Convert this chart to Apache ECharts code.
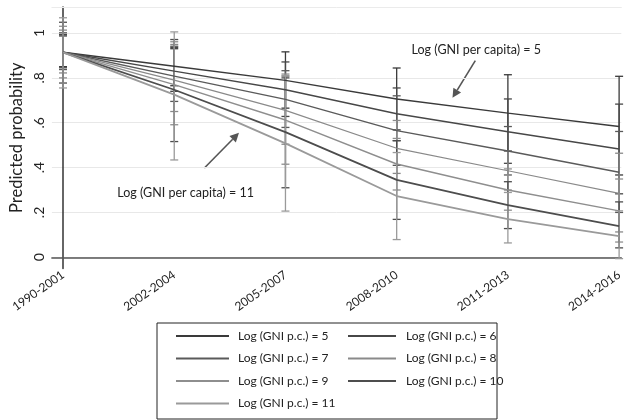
<!DOCTYPE html>
<html>
<head>
<meta charset="utf-8">
<script src="https://cdn.jsdelivr.net/npm/echarts@6/dist/echarts.min.js"></script>
<style>html,body{margin:0;padding:0;background:#fff}#c{width:625px;height:420px}</style>
</head>
<body>
<div id="c"></div>
<script>
// ---- data ----
const periods = ['1990-2001', '2002-2004', '2005-2007', '2008-2010', '2011-2013', '2014-2016'];
const yTicks = [0, 0.2, 0.4, 0.6, 0.8, 1];
const seriesNames = ['Log (GNI p.c.) = 5', 'Log (GNI p.c.) = 6', 'Log (GNI p.c.) = 7', 'Log (GNI p.c.) = 8',
                     'Log (GNI p.c.) = 9', 'Log (GNI p.c.) = 10', 'Log (GNI p.c.) = 11'];
const gni5  = [0.914, 0.852, 0.789, 0.706, 0.643, 0.583];
const gni6  = [0.914, 0.830, 0.747, 0.640, 0.560, 0.483];
const gni7  = [0.914, 0.808, 0.704, 0.565, 0.474, 0.379];
const gni8  = [0.914, 0.790, 0.655, 0.486, 0.386, 0.285];
const gni9  = [0.914, 0.770, 0.612, 0.416, 0.300, 0.207];
const gni10 = [0.914, 0.747, 0.558, 0.345, 0.233, 0.139];
const gni11 = [0.914, 0.725, 0.508, 0.273, 0.170, 0.094];
// confidence intervals (lower, upper)
const lo5  = [0.850, 0.765, 0.665, 0.568, 0.474, 0.367];
const hi5  = [0.987, 0.930, 0.916, 0.844, 0.814, 0.807];
const lo6  = [0.845, 0.740, 0.628, 0.520, 0.419, 0.283];
const hi6  = [0.993, 0.936, 0.871, 0.755, 0.706, 0.683];
const lo7  = [0.837, 0.695, 0.579, 0.410, 0.367, 0.200];
const hi7  = [1.001, 0.941, 0.832, 0.720, 0.583, 0.561];
const lo8  = [0.822, 0.650, 0.504, 0.374, 0.300, 0.113];
const hi8  = [1.013, 0.949, 0.807, 0.610, 0.474, 0.464];
const lo9  = [0.800, 0.591, 0.415, 0.300, 0.210, 0.068];
const hi9  = [1.030, 0.961, 0.817, 0.530, 0.394, 0.349];
const lo10 = [0.777, 0.516, 0.310, 0.169, 0.128, 0.042];
const hi10 = [1.048, 0.971, 0.800, 0.520, 0.337, 0.247];
const lo11 = [0.755, 0.434, 0.206, 0.079, 0.064, -0.006];
const hi11 = [1.068, 1.005, 0.810, 0.467, 0.289, 0.207];
// annotations in data coordinates (x index, probability)
const annot5  = {text: 'Log (GNI per capita) = 5',  at: [3.716, 0.926], from: [3.707, 0.877], to: [3.502, 0.711]};
const annot11 = {text: 'Log (GNI per capita) = 11', at: [1.102, 0.286], from: [1.271, 0.398], to: [1.582, 0.555]};

// ---- styles ----
const values = [gni5, gni6, gni7, gni8, gni9, gni10, gni11];
const lows = [lo5, lo6, lo7, lo8, lo9, lo10, lo11];
const highs = [hi5, hi6, hi7, hi8, hi9, hi10, hi11];
const colors = ['#3a3a3a', '#474747', '#5a5a5a', '#8a8a8a', '#8e8e8e', '#4d4d4d', '#9a9a9a'];
const widths = [1.4, 1.4, 1.4, 1.2, 1.4, 1.8, 1.8];
const FONT = 'Lato';

const chart = echarts.init(document.getElementById('c'), null, {renderer: 'canvas'});

const errSeries = values.map((v, i) => ({
  type: 'custom',
  name: 'ci' + i,
  clip: false,
  z: 2,
  encode: {x: 0, y: [1, 2]},
  data: periods.map((p, j) => [j, lows[i][j], highs[i][j]]),
  renderItem: function (params, api) {
    const x = api.value(0);
    const a = api.coord([x, api.value(1)]);
    const b = api.coord([x, api.value(2)]);
    const w = 4;
    const st = {stroke: colors[i], lineWidth: 1.3};
    return {
      type: 'group',
      children: [
        {type: 'line', shape: {x1: a[0], y1: a[1], x2: b[0], y2: b[1]}, style: st},
        {type: 'line', shape: {x1: a[0] - w, y1: a[1], x2: a[0] + w, y2: a[1]}, style: st},
        {type: 'line', shape: {x1: b[0] - w, y1: b[1], x2: b[0] + w, y2: b[1]}, style: st}
      ]
    };
  }
}));

const lineSeries = values.map((v, i) => ({
  type: 'line',
  name: seriesNames[i],
  symbol: 'none',
  z: 3,
  silent: true,
  lineStyle: {color: colors[i], width: widths[i]},
  itemStyle: {color: colors[i]},
  data: v.map((y, j) => [j, y])
}));

const legendCommon = {
  orient: 'vertical',
  selectedMode: false,
  padding: 0,
  itemHeight: 14,
  itemGap: 10.5,
  height: 100,
  itemStyle: {opacity: 0},
  textStyle: {fontFamily: FONT, fontSize: 12, color: '#222'}
};

const option = {
  animation: false,
  grid: {left: 50, right: 0, top: 7, bottom: 151.5},
  xAxis: [{
    type: 'value',
    min: -0.1,
    max: 5.02,
    axisLine: {show: true, lineStyle: {color: '#555', width: 1.5}},
    axisTick: {show: false},
    splitLine: {show: false},
    axisLabel: {
      customValues: [0, 1, 2, 3, 4, 5],
      formatter: v => periods[Math.round(v)],
      rotate: 35,
      margin: 5,
      fontFamily: FONT, fontSize: 12, color: '#222'
    }
  }, {
    type: 'value',
    position: 'top',
    min: -0.1,
    max: 5.02,
    axisLine: {show: true, lineStyle: {color: '#ebebeb', width: 1}},
    axisTick: {show: false},
    axisLabel: {show: false},
    splitLine: {show: false}
  }],
  yAxis: {
    type: 'value',
    min: -0.05,
    max: 1.116,
    name: 'Predicted probability',
    nameLocation: 'middle',
    nameGap: 21,
    nameTextStyle: {fontFamily: FONT, fontSize: 16.5, color: '#222'},
    axisLine: {show: true, lineStyle: {color: '#333', width: 1.5}},
    axisTick: {show: false, customValues: yTicks},
    splitLine: {show: true, lineStyle: {color: '#e8e8e8', width: 1}},
    axisLabel: {
      customValues: yTicks,
      rotate: 90,
      margin: 5,
      formatter: v => (v === 0 ? '0' : v === 1 ? '1' : String(Math.round(v * 10) / 10).replace(/^0/, '')),
      fontFamily: FONT, fontSize: 14, color: '#222'
    }
  },
  legend: [
    Object.assign({}, legendCommon, {
      left: 175, top: 330, itemWidth: 53,
      data: [seriesNames[0], seriesNames[2], seriesNames[4], seriesNames[6]],
      textStyle: Object.assign({}, legendCommon.textStyle, {padding: [0, 0, 0, 4]})
    }),
    Object.assign({}, legendCommon, {
      left: 347, top: 330, itemWidth: 48,
      data: [seriesNames[1], seriesNames[3], seriesNames[5]],
      textStyle: Object.assign({}, legendCommon.textStyle, {padding: [0, 0, 0, 5]})
    })
  ],
  graphic: [{
    type: 'rect',
    shape: {x: 157, y: 323, width: 340, height: 96},
    style: {fill: 'none', stroke: '#222', lineWidth: 1}
  }],
  series: errSeries.concat(lineSeries)
};

chart.setOption(option);

// annotations positioned through the chart's coordinate system
function annotation(a) {
  const t = chart.convertToPixel({gridIndex: 0}, a.at);
  const p = chart.convertToPixel({gridIndex: 0}, a.from);
  const q = chart.convertToPixel({gridIndex: 0}, a.to);
  const dx = q[0] - p[0], dy = q[1] - p[1];
  const len = Math.sqrt(dx * dx + dy * dy);
  const ux = dx / len, uy = dy / len;
  const hl = 9, hw = 4.5;
  const bx = q[0] - ux * hl, by = q[1] - uy * hl;
  return [
    {type: 'text', x: t[0], y: t[1], style: {text: a.text, fontFamily: FONT, fontSize: 12.5, fill: '#222', align: 'center', verticalAlign: 'middle'}},
    {type: 'line', shape: {x1: p[0], y1: p[1], x2: bx, y2: by}, style: {stroke: '#555', lineWidth: 1.6}},
    {type: 'polygon', shape: {points: [[q[0], q[1]], [bx - uy * hw, by + ux * hw], [bx + uy * hw, by - ux * hw]]}, style: {fill: '#555'}}
  ];
}
chart.setOption({graphic: option.graphic.concat(annotation(annot5), annotation(annot11))});
</script>
</body>
</html>
